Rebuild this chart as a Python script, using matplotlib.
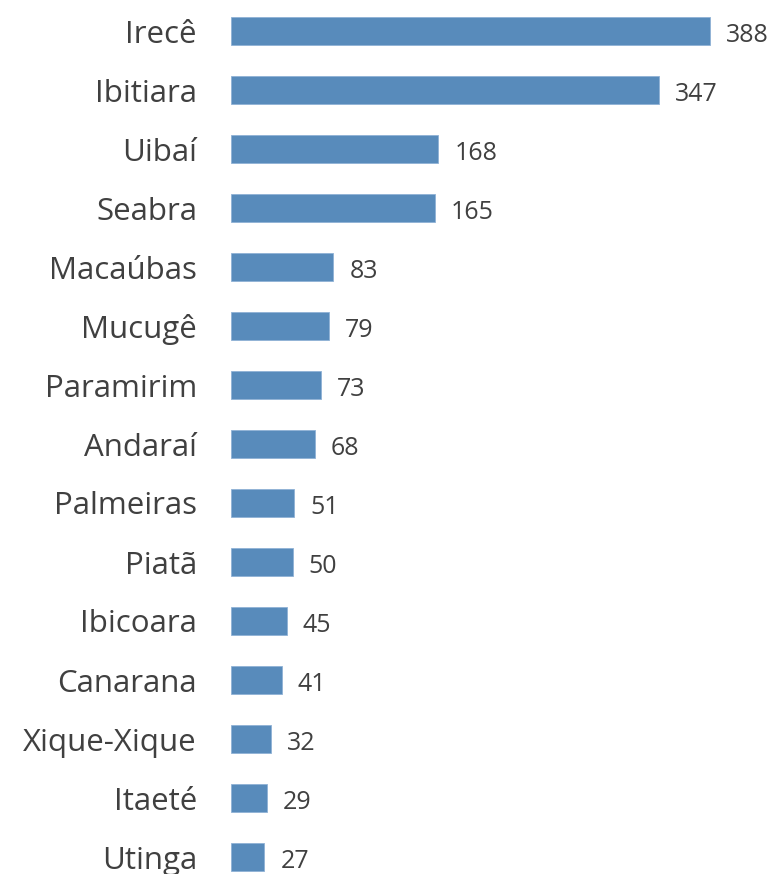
import matplotlib
matplotlib.use("Agg")
import matplotlib.pyplot as plt

categories = ["Irecê", "Ibitiara", "Uibaí", "Seabra", "Macaúbas", "Mucugê", "Paramirim",
              "Andaraí", "Palmeiras", "Piatã", "Ibicoara", "Canarana", "Xique-Xique",
              "Itaeté", "Utinga"]
values = [388, 347, 168, 165, 83, 79, 73, 68, 51, 50, 45, 41, 32, 29, 27]

W, H = 777, 874
fig = plt.figure(figsize=(W / 100, H / 100), dpi=100)
# axes geometry in pixels
left_px = 231
right_px = 777
px_per_unit = (710 - 231) / 388.0
top_c, bot_c = 31, 857
step = (bot_c - top_c) / (len(categories) - 1)
ax_top = top_c - 0.5 * step
ax_bot = bot_c + 0.5 * step
ax = fig.add_axes([left_px / W, 1 - ax_bot / H, (right_px - left_px) / W, (ax_bot - ax_top) / H])

ypos = list(range(len(categories)))
ax.barh(ypos, values, height=0.49, color="#588BBB", edgecolor="#8FB2D6", linewidth=0.6)
ax.set_xlim(0, (right_px - left_px) / px_per_unit)
ax.set_ylim(len(categories) - 0.5, -0.5)

font = "Open Sans"
txtc = "#404040"
for i, v in zip(ypos, values):
    ax.annotate(str(v), (v, i), xytext=(11.5, -3), textcoords="offset points",
                ha="left", va="center", fontsize=18, color=txtc, family=font)

ax.set_yticks(ypos)
ax.set_yticklabels(categories, fontsize=22.5, color=txtc, family=font)
ax.tick_params(axis="y", length=0, pad=24.5)
ax.set_xticks([])
for s in ax.spines.values():
    s.set_visible(False)

fig.savefig("out.png", dpi=100)
